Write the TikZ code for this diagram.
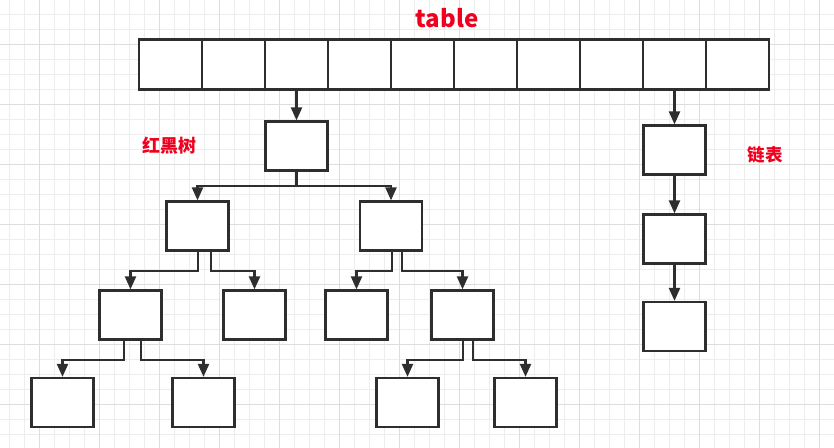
\documentclass[tikz,border=0pt]{standalone}
\usepackage{fontspec}
\setmainfont{Noto Sans CJK SC}
\usetikzlibrary{arrows.meta}
\definecolor{linegray}{HTML}{2E2E2E}
\definecolor{gridminor}{HTML}{EDEDED}
\definecolor{gridmajor}{HTML}{DDDDDD}
\definecolor{labelred}{RGB}{238,0,30}
\newcommand{\boxw}{62pt}

\begin{document}
\begin{tikzpicture}[x=1pt,y=-1pt,
    cellbox/.style={draw=linegray,line width=2.3pt,fill=white,minimum width=63pt,minimum height=50pt,inner sep=0pt},
    treebox/.style={draw=linegray,line width=2.3pt,fill=white,minimum width=\boxw,minimum height=49pt,inner sep=0pt},
    link/.style={draw=linegray,line width=2.3pt,-{Triangle[length=13pt,width=11pt]}},
    redtext/.style={text=labelred,font=\bfseries}]
    \useasboundingbox (0,0) rectangle (834,447);
    % background grid
    \fill[white] (0,0) rectangle (834,447);
    \begin{scope}
        \clip (0,0) rectangle (834,447);
        \draw[gridminor,line width=1pt,shift={(9.3,14)},step=15pt] (-15,-15) grid (840,450);
        \draw[gridmajor,line width=1pt,shift={(39.3,44)},step=60pt] (-60,-60) grid (840,450);
    \end{scope}
    % table
    \foreach \i in {1,...,10}
        \node[cellbox] (t\i) at ({170.5+63*(\i-1)},64.5) {};
    \node[redtext,font=\bfseries\fontsize{24}{24}\selectfont,anchor=base] (title) at (447,27) {table};
    % red black tree
    \node[treebox] (root) at (296.5,146) {};
    \node[treebox] (a) at (197.5,226) {};
    \node[treebox] (b) at (391,226) {};
    \node[treebox] (aa) at (130.5,315) {};
    \node[treebox] (ab) at (254.5,315) {};
    \node[treebox] (ba) at (356.5,315) {};
    \node[treebox] (bb) at (462.5,315) {};
    \node[treebox] (aaa) at (62.5,402.5) {};
    \node[treebox] (aab) at (203.5,402.5) {};
    \node[treebox] (bba) at (407.5,402.5) {};
    \node[treebox] (bbb) at (525.5,402.5) {};
    \node[redtext,font=\bfseries\fontsize{18}{18}\selectfont] (treelabel) at (169.5,146) {红黑树};
    \draw[link] (t3.south) -- (root.north);
    \draw[link] (root.south) -- ++(0,14) -| (a.north);
    \draw[link] (root.south) -- ++(0,14) -| (b.north);
    \draw[link] ([xshift=0.5pt]a.south) -- ++(0,19) -| (aa.north);
    \draw[link] ([xshift=13.5pt]a.south) -- ++(0,19) -| (ab.north);
    \draw[link] ([xshift=1pt]b.south) -- ++(0,19) -| (ba.north);
    \draw[link] ([xshift=11pt]b.south) -- ++(0,19) -| (bb.north);
    \draw[link] ([xshift=-6.5pt]aa.south) -- ++(0,19) -| (aaa.north);
    \draw[link] ([xshift=10.5pt]aa.south) -- ++(0,19) -| (aab.north);
    \draw[link] ([xshift=0.5pt]bb.south) -- ++(0,19) -| (bba.north);
    \draw[link] ([xshift=10.5pt]bb.south) -- ++(0,19) -| (bbb.north);
    % linked list
    \node[treebox] (l1) at (674.5,150) {};
    \node[treebox] (l2) at (674.5,239) {};
    \node[treebox] (l3) at (674.5,326.5) {};
    \node[redtext,font=\bfseries\fontsize{17.5}{17.5}\selectfont] (listlabel) at (765,154.5) {链表};
    \draw[link] (t9.south) -- (l1.north);
    \draw[link] (l1.south) -- (l2.north);
    \draw[link] (l2.south) -- (l3.north);
\end{tikzpicture}
\end{document}
